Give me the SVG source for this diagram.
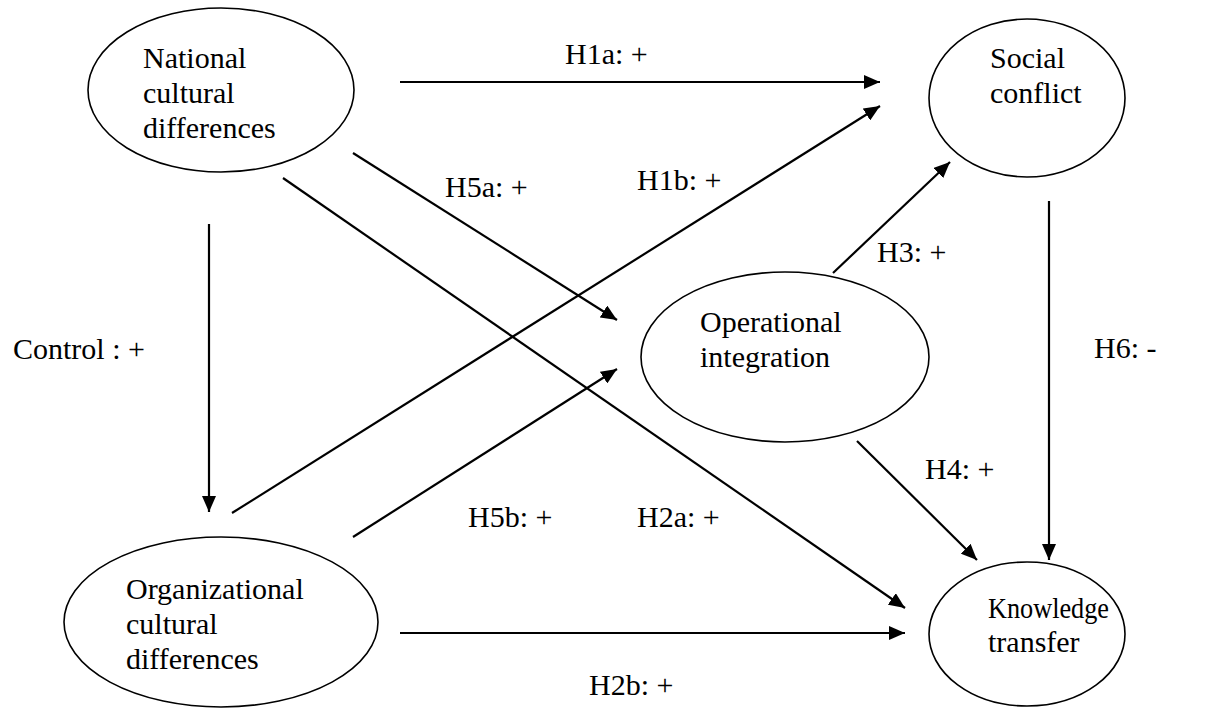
<svg xmlns="http://www.w3.org/2000/svg" width="1213" height="709" viewBox="0 0 1213 709">
<style>
.n ellipse{fill:#fff;stroke:#000;stroke-width:1.6}
text{font-family:"Liberation Serif","Times New Roman",serif;font-size:30px;fill:#000}
.c line{stroke:#000;stroke-width:2.2;marker-end:url(#ah)}
</style>
<defs>
<marker id="ah" markerUnits="userSpaceOnUse" markerWidth="16" markerHeight="14" refX="16" refY="7" orient="auto">
<path d="M0,0 L16,7 L0,14 Z" fill="#000"/>
</marker>
</defs>
<rect width="1213" height="709" fill="#fff"/>
<g id="connectors" class="c">
<line x1="400" y1="82" x2="880" y2="82"/>
<line x1="232" y1="513" x2="880" y2="106"/>
<line x1="353" y1="153" x2="617" y2="320"/>
<line x1="283" y1="178" x2="905" y2="608"/>
<line x1="209" y1="224" x2="209" y2="512"/>
<line x1="353" y1="537" x2="617" y2="369"/>
<line x1="833" y1="273" x2="950" y2="162"/>
<line x1="1049" y1="201" x2="1049" y2="560"/>
<line x1="857" y1="441" x2="977" y2="560"/>
<line x1="400" y1="633" x2="905" y2="633"/>
</g>
<g id="labels">
<text x="13" y="359">Control : +</text>
<text x="565" y="64">H1a: +</text>
<text x="445" y="197">H5a: +</text>
<text x="637" y="190">H1b: +</text>
<text x="877" y="262">H3: +</text>
<text x="1094" y="358">H6: -</text>
<text x="925" y="479">H4: +</text>
<text x="468" y="527">H5b: +</text>
<text x="637" y="527">H2a: +</text>
<text x="589" y="695">H2b: +</text>
</g>
<g id="national" class="n">
<ellipse cx="221" cy="90" rx="133" ry="82"/>
<text x="143" y="68">National</text>
<text x="143" y="103">cultural</text>
<text x="143" y="138">differences</text>
</g>
<g id="organizational" class="n">
<ellipse cx="221" cy="622" rx="157" ry="85"/>
<text x="126" y="599">Organizational</text>
<text x="126" y="634">cultural</text>
<text x="126" y="669">differences</text>
</g>
<g id="social" class="n">
<ellipse cx="1027" cy="98" rx="98" ry="79"/>
<text x="990" y="68">Social</text>
<text x="990" y="103">conflict</text>
</g>
<g id="operational" class="n">
<ellipse cx="785" cy="357" rx="144" ry="85"/>
<text x="700" y="332">Operational</text>
<text x="700" y="367">integration</text>
</g>
<g id="knowledge" class="n">
<ellipse cx="1027" cy="634" rx="98" ry="72"/>
<text x="988" y="618" textLength="121" lengthAdjust="spacingAndGlyphs">Knowledge</text>
<text x="988" y="652">transfer</text>
</g>
</svg>
